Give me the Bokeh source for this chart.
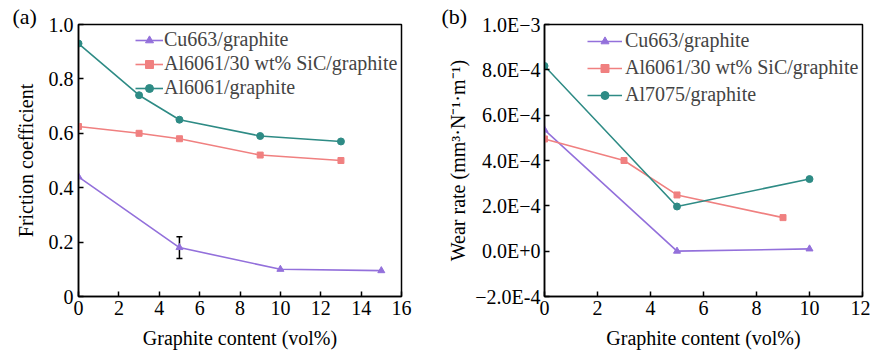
from bokeh.plotting import figure
from bokeh.layouts import row
from bokeh.models import (Legend, LegendItem, FixedTicker, CustomJSTickFormatter,
                          Whisker, ColumnDataSource, TeeHead, Title)
from bokeh.embed import file_html
from bokeh.resources import INLINE

FONT = "Liberation Serif"
FS = "20px"
PURPLE = "#9370DB"
SALMON = "#F08080"
TEAL = "#2E8B85"

# ---- Panel (a) data: friction coefficient ----
a_cu_x = [0, 5, 10, 15]
a_cu_y = [0.44, 0.18, 0.10, 0.095]
a_sic_x = [0, 3, 5, 9, 13]
a_sic_y = [0.625, 0.60, 0.58, 0.52, 0.50]
a_al_x = [0, 3, 5, 9, 13]
a_al_y = [0.93, 0.74, 0.65, 0.59, 0.57]
a_err_x = [5]
a_err_lo = [0.14]
a_err_hi = [0.22]
a_names = ["Cu663/graphite", "Al6061/30 wt% SiC/graphite", "Al6061/graphite"]
a_xticks = [0, 2, 4, 6, 8, 10, 12, 14, 16]
a_yticks = [0, 0.2, 0.4, 0.6, 0.8, 1.0]
a_ylabels = ["0", "0.2", "0.4", "0.6", "0.8", "1.0"]

# ---- Panel (b) data: wear rate ----
b_cu_x = [0, 5, 10]
b_cu_y = [5.35e-4, 0.0, 0.1e-4]
b_sic_x = [0, 3, 5, 9]
b_sic_y = [4.95e-4, 4.0e-4, 2.48e-4, 1.48e-4]
b_al_x = [0, 5, 10]
b_al_y = [8.17e-4, 1.97e-4, 3.18e-4]
b_names = ["Cu663/graphite", "Al6061/30 wt% SiC/graphite", "Al7075/graphite"]
b_xticks = [0, 2, 4, 6, 8, 10, 12]
b_yticks = [-2e-4, 0.0, 2e-4, 4e-4, 6e-4, 8e-4, 1e-3]
b_ylabels = ["\u22122.0E-4", "0.0E+0", "2.0E\u22124", "4.0E\u22124", "6.0E\u22124", "8.0E\u22124", "1.0E\u22123"]

XLABEL = "Graphite content (vol%)"


def fmt(ticks, labels):
    return CustomJSTickFormatter(args=dict(t=ticks, l=labels), code="""
        let best = 0, bd = Infinity;
        for (let i = 0; i < t.length; i++) { const d = Math.abs(t[i] - tick); if (d < bd) { bd = d; best = i; } }
        return l[best];
    """)


def style(p):
    p.outline_line_color = "black"
    p.outline_line_width = 1.5
    p.grid.visible = False
    for ax in (p.xaxis[0], p.yaxis[0]):
        ax.axis_line_width = 1.5
        ax.major_tick_in = 5
        ax.major_tick_out = 0
        ax.major_tick_line_width = 1.5
        ax.minor_tick_line_color = None
        ax.major_label_text_font = FONT
        ax.major_label_text_font_size = FS
        ax.major_label_text_color = "black"
        ax.axis_label_text_font = FONT
        ax.axis_label_text_font_size = FS
        ax.axis_label_text_font_style = "normal"
        ax.axis_label_text_color = "black"
    p.xaxis.major_label_standoff = 4
    p.xaxis.axis_label_standoff = 9
    p.background_fill_color = "white"
    p.border_fill_color = "white"


def series(p, x, y, color, marker, size):
    src = ColumnDataSource(dict(x=x, y=y))
    l = p.line("x", "y", source=src, line_color=color, line_width=1.6)
    s = p.scatter("x", "y", source=src, marker=marker, size=size, fill_color=color, line_color=color)
    return [l, s]


def legend(p, names, rends, loc, glyph_w, spacing, standoff):
    items = [LegendItem(label=n, renderers=r) for n, r in zip(names, rends)]
    lg = Legend(items=items, location=loc, background_fill_alpha=0, border_line_color=None,
                label_text_font=FONT, label_text_font_size=FS, label_height=20,
                glyph_height=20, glyph_width=glyph_w, spacing=spacing, padding=0, margin=0,
                label_standoff=standoff)
    p.add_layout(lg, "center")


def panel_tag(p, text, offset):
    p.add_layout(Title(text=text, align="left", offset=offset, text_font=FONT,
                       text_font_size="22px", text_font_style="normal", text_color="black",
                       standoff=-9), "above")


# ---- Figure (a) ----
pa = figure(width=435, height=352, x_range=(0, 16), y_range=(0, 1.0),
            output_backend="svg", toolbar_location=None,
            min_border_left=78, min_border_right=34, min_border_top=24, min_border_bottom=56)
style(pa)
pa.xaxis.ticker = FixedTicker(ticks=a_xticks)
pa.yaxis.ticker = FixedTicker(ticks=a_yticks)
pa.yaxis.formatter = fmt(a_yticks, a_ylabels)
pa.xaxis.axis_label = XLABEL
pa.yaxis.axis_label = "Friction coefficient"
pa.yaxis.axis_label_standoff = 9
pa.yaxis.major_label_standoff = 5

ra1 = series(pa, a_cu_x, a_cu_y, PURPLE, "triangle", 7)
ra2 = series(pa, a_sic_x, a_sic_y, SALMON, "square", 6)
ra3 = series(pa, a_al_x, a_al_y, TEAL, "circle", 7)
err = ColumnDataSource(dict(x=a_err_x, lo=a_err_lo, hi=a_err_hi))
pa.add_layout(Whisker(source=err, base="x", lower="lo", upper="hi", line_color="black",
                      line_width=1.5,
                      upper_head=TeeHead(size=6, line_color="black", line_width=1.5),
                      lower_head=TeeHead(size=6, line_color="black", line_width=1.5)))
legend(pa, a_names, [ra1, ra2, ra3], (57, 197), 28, 1, 1)
panel_tag(pa, "(a)", -66)

# ---- Figure (b) ----
pb = figure(width=435, height=352, x_range=(0, 12), y_range=(-2e-4, 1e-3),
            output_backend="svg", toolbar_location=None,
            min_border_left=109, min_border_right=8, min_border_top=24, min_border_bottom=56)
style(pb)
pb.xaxis.ticker = FixedTicker(ticks=b_xticks)
pb.yaxis.ticker = FixedTicker(ticks=b_yticks)
pb.yaxis.formatter = fmt(b_yticks, b_ylabels)
pb.xaxis.axis_label = XLABEL
pb.yaxis.axis_label = "Wear rate (mm\u00b3\u00b7N\u207b\u00b9\u00b7m\u207b\u00b9)"
pb.yaxis.axis_label_standoff = 3
pb.yaxis.major_label_standoff = 4

rb1 = series(pb, b_cu_x, b_cu_y, PURPLE, "triangle", 7)
rb2 = series(pb, b_sic_x, b_sic_y, SALMON, "square", 6)
rb3 = series(pb, b_al_x, b_al_y, TEAL, "circle", 7)
legend(pb, b_names, [rb1, rb2, rb3], (43, 190), 35, 4, 3)
panel_tag(pb, "(b)", -103)

layout = row(pa, pb)
open("out.html", "w").write(file_html(layout, INLINE))
